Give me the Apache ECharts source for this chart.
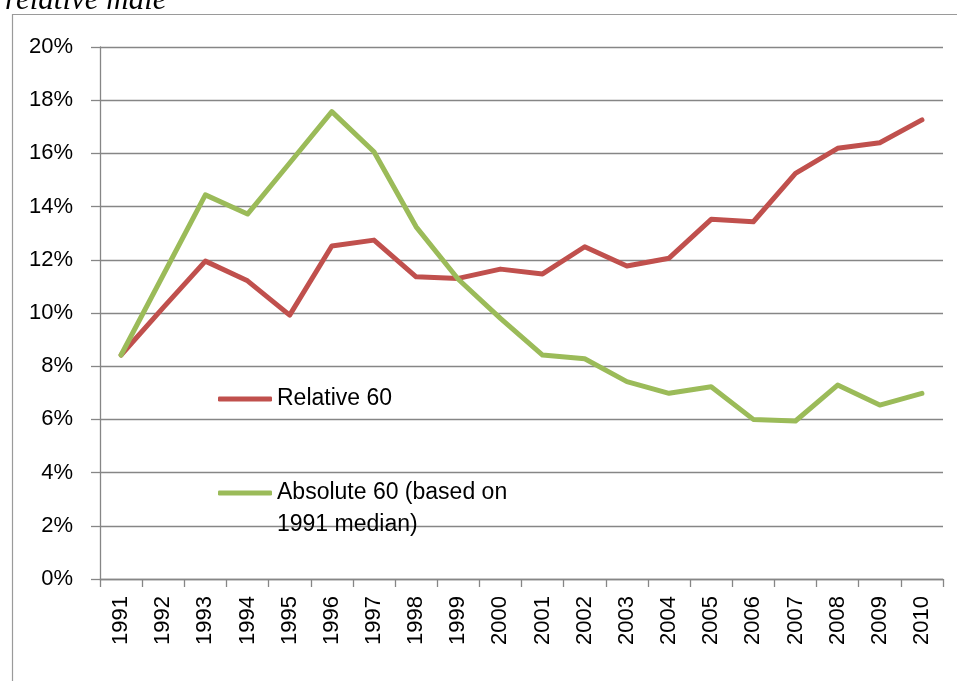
<!DOCTYPE html>
<html>
<head>
<meta charset="utf-8">
<script src="https://cdn.jsdelivr.net/npm/echarts@6/dist/echarts.min.js"></script>
<style>
html,body{margin:0;padding:0;background:#fff;}
#chart{width:957px;height:681px;}
</style>
</head>
<body>
<div id="chart"></div>
<script>
var years = ['1991','1992','1993','1994','1995','1996','1997','1998','1999','2000',
             '2001','2002','2003','2004','2005','2006','2007','2008','2009','2010'];
var relative60 = [8.42, 10.2, 11.95, 11.21, 9.92, 12.52, 12.74, 11.36, 11.30, 11.65,
                  11.47, 12.49, 11.77, 12.06, 13.52, 13.43, 15.25, 16.19, 16.40, 17.26];
var absolute60 = [8.42, 11.43, 14.44, 13.72, 15.64, 17.57, 16.06, 13.24, 11.27, 9.80,
                  8.42, 8.28, 7.42, 6.98, 7.23, 6.00, 5.94, 7.29, 6.54, 6.98];
var yTicks = [0, 2, 4, 6, 8, 10, 12, 14, 16, 18, 20];
var nameRel = 'Relative 60';
var nameAbs = 'Absolute 60 (based on 1991 median)';
var titleText = 'relative male';

var chart = echarts.init(document.getElementById('chart'), null, {renderer: 'canvas'});
var axisFont = 'Liberation Sans';
var option = {
  backgroundColor: '#fff',
  animation: false,
  title: {
    text: titleText,
    left: 0, top: -20,
    textStyle: {fontFamily: 'Liberation Serif', fontStyle: 'italic', fontWeight: 'normal', fontSize: 31, color: '#000'}
  },
  graphic: [{
    type: 'rect', left: 10, top: 12,
    shape: {width: 960, height: 700},
    style: {fill: 'none', stroke: '#9a9a9a', lineWidth: 1.2},
    silent: true
  }],
  grid: {left: 100, right: 14, top: 47, bottom: 102, containLabel: false},
  legend: [{
    data: [nameRel], left: 218, top: 383, padding: 0,
    icon: 'roundRect', itemWidth: 54, itemHeight: 5, itemGap: 0,
    textStyle: {fontFamily: axisFont, fontSize: 23, color: '#000', lineHeight: 32}
  }, {
    data: [nameAbs], left: 218, top: 445, padding: 0,
    icon: 'roundRect', itemWidth: 54, itemHeight: 5,
    formatter: function () { return ' \nAbsolute 60 (based on\n1991 median)'; },
    textStyle: {fontFamily: axisFont, fontSize: 23, color: '#000', lineHeight: 32}
  }],
  xAxis: {
    type: 'category', data: years, boundaryGap: true,
    axisLine: {lineStyle: {color: '#868686', width: 1.3}},
    axisTick: {show: true, length: 8, alignWithLabel: false, lineStyle: {color: '#868686', width: 1.3}},
    axisLabel: {rotate: 90, margin: 17, fontFamily: axisFont, fontSize: 22, color: '#000', interval: 0}
  },
  yAxis: {
    type: 'value', min: yTicks[0], max: yTicks[yTicks.length - 1], interval: 2,
    axisLine: {show: true, lineStyle: {color: '#868686', width: 1.3}},
    axisTick: {show: true, length: 9, inside: false, lineStyle: {color: '#868686', width: 1.3}},
    splitLine: {show: true, lineStyle: {color: '#868686', width: 1.3}},
    axisLabel: {margin: 27, fontFamily: axisFont, fontSize: 22, color: '#000',
      formatter: function (v) { return v + '%'; }}
  },
  series: [{
    name: nameRel, type: 'line', data: relative60, showSymbol: false, symbol: 'none',
    lineStyle: {color: '#C0504D', width: 5, cap: 'round', join: 'round'},
    itemStyle: {color: '#C0504D'}
  }, {
    name: nameAbs, type: 'line', data: absolute60, showSymbol: false, symbol: 'none',
    lineStyle: {color: '#9BBB59', width: 5, cap: 'round', join: 'round'},
    itemStyle: {color: '#9BBB59'}
  }]
};
chart.setOption(option);
</script>
</body>
</html>
